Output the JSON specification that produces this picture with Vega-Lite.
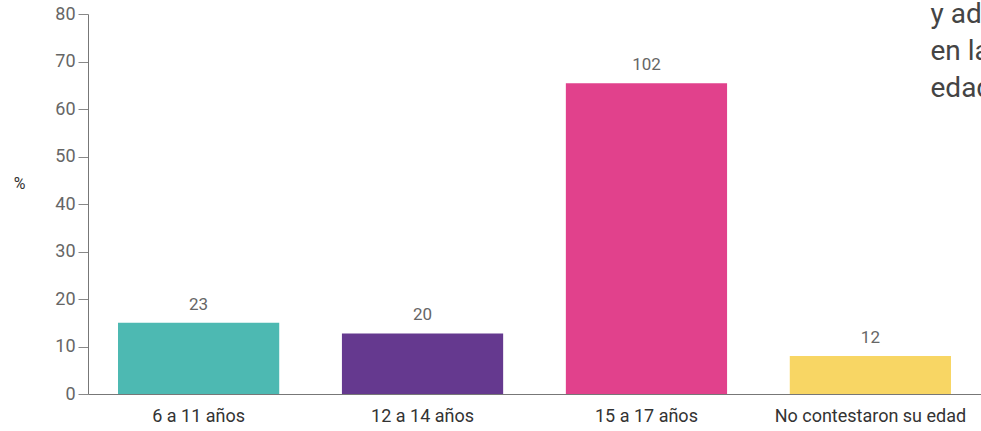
{
  "$schema": "https://vega.github.io/schema/vega-lite/v6.json",
  "width": 893,
  "height": 380,
  "autosize": {"type": "none"},
  "padding": {"left": 88, "top": 14, "right": 0, "bottom": 37},
  "background": "white",
  "data": {
    "values": [
      {"grupo": "6 a 11 años", "pct": 15.0, "n": 23, "color": "#4DB9B2"},
      {"grupo": "12 a 14 años", "pct": 12.75, "n": 20, "color": "#65398F"},
      {"grupo": "15 a 17 años", "pct": 65.4, "n": 102, "color": "#E1418C"},
      {"grupo": "No contestaron su edad", "pct": 8.0, "n": 12, "color": "#F8D664"}
    ]
  },
  "encoding": {
    "x": {
      "field": "grupo",
      "type": "nominal",
      "sort": null,
      "scale": {"paddingInner": 0.28, "paddingOuter": 0.134},
      "axis": {
        "title": ["y ad", "en la", "edad"],
        "titleX": 842,
        "titleY": -372,
        "titleAlign": "left",
        "titleBaseline": "alphabetic",
        "titleAngle": 0,
        "titleFont": "Roboto",
        "titleFontSize": 28,
        "titleFontWeight": "normal",
        "titleColor": "#444444",
        "titleLineHeight": 37,
        "labelAngle": 0,
        "ticks": false,
        "labelPadding": 13,
        "labelLimit": 0,
        "labelFont": "Roboto",
        "labelFontSize": 18,
        "labelColor": "#333333",
        "domainColor": "#777777",
        "labelBaseline": "top"
      }
    },
    "y": {
      "field": "pct",
      "type": "quantitative",
      "scale": {"domain": [0, 80], "nice": false},
      "axis": {
        "values": [0, 10, 20, 30, 40, 50, 60, 70, 80],
        "grid": false,
        "tickSize": 10,
        "tickColor": "#888888",
        "domainColor": "#777777",
        "labelPadding": 3,
        "labelFont": "Roboto",
        "labelFontSize": 18,
        "labelColor": "#666666",
        "title": "%",
        "titleAngle": 0,
        "titleX": -69,
        "titleY": 169,
        "titleAlign": "center",
        "titleBaseline": "middle",
        "titleFont": "Roboto",
        "titleFontSize": 16,
        "titleFontWeight": "normal",
        "titleColor": "#333333"
      }
    }
  },
  "layer": [
    {
      "mark": {"type": "bar"},
      "encoding": {
        "color": {"field": "color", "type": "nominal", "scale": null, "legend": null}
      }
    },
    {
      "mark": {"type": "text", "baseline": "bottom", "dy": -9, "font": "Roboto", "fontSize": 17, "color": "#666666"},
      "encoding": {
        "text": {"field": "n", "type": "quantitative"}
      }
    }
  ],
  "config": {
    "view": {"stroke": null}
  }
}
